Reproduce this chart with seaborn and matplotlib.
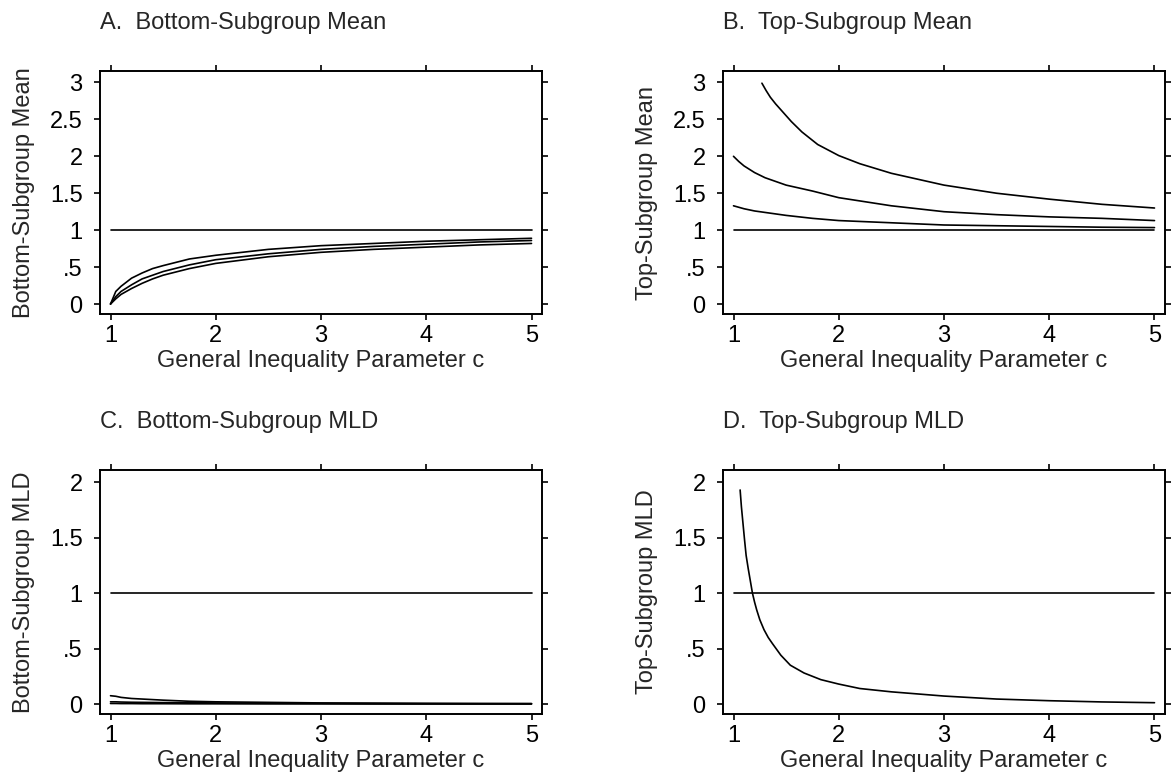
import numpy as np
import pandas as pd
import matplotlib
matplotlib.use("Agg")
import matplotlib.pyplot as plt
import seaborn as sns

sns.set_style("ticks")
plt.rcParams['font.family'] = ['Liberation Sans', 'DejaVu Sans']
plt.rcParams['font.size'] = 17

# ------------------------------------------------------------------
# data
# ------------------------------------------------------------------
c_grid = [1.0, 1.05, 1.1, 1.2, 1.3, 1.4, 1.5, 1.75, 2.0, 2.5, 3.0, 3.5, 4.0, 4.5, 5.0]
c_ref = [1.0, 5.0]
ref_one = [1.0, 1.0]

# A. bottom-subgroup mean (three curves)
a_top = [0.0, 0.17, 0.24, 0.35, 0.42, 0.48, 0.52, 0.61, 0.66, 0.74, 0.79, 0.82, 0.85, 0.87, 0.89]
a_mid = [0.0, 0.10, 0.17, 0.26, 0.34, 0.39, 0.44, 0.53, 0.60, 0.68, 0.74, 0.78, 0.81, 0.84, 0.86]
a_low = [0.0, 0.07, 0.13, 0.21, 0.28, 0.34, 0.39, 0.48, 0.55, 0.64, 0.70, 0.74, 0.77, 0.80, 0.82]

# B. top-subgroup mean (three curves)
c_b_top = [1.27, 1.31, 1.35, 1.4, 1.45, 1.55, 1.65, 1.8, 2.0, 2.2, 2.5, 3.0, 3.5, 4.0, 4.5, 5.0]
b_top = [2.99, 2.89, 2.80, 2.71, 2.63, 2.47, 2.33, 2.16, 2.01, 1.90, 1.77, 1.61, 1.50, 1.42, 1.35, 1.30]
b_mid = [2.00, 1.93, 1.87, 1.78, 1.71, 1.66, 1.61, 1.53, 1.44, 1.33, 1.25, 1.21, 1.18, 1.16, 1.13]
b_low = [1.33, 1.31, 1.29, 1.26, 1.24, 1.22, 1.20, 1.16, 1.13, 1.10, 1.07, 1.06, 1.05, 1.04, 1.035]

# C. bottom-subgroup MLD (three curves, all close to zero)
c_one = [0.075, 0.07, 0.06, 0.05, 0.045, 0.04, 0.035, 0.025, 0.02, 0.015, 0.01, 0.008, 0.006, 0.005, 0.004]
c_two = [0.02, 0.02, 0.018, 0.016, 0.015, 0.014, 0.013, 0.012, 0.01, 0.008, 0.006, 0.005, 0.004, 0.003, 0.003]
c_three = [0.005, 0.005, 0.004, 0.004, 0.003, 0.003, 0.003, 0.002, 0.002, 0.001, 0.001, 0.0, 0.0, 0.0, 0.0]

# D. top-subgroup MLD (one curve)
c_d = [1.063, 1.075, 1.09, 1.105, 1.12, 1.14, 1.16, 1.18, 1.2, 1.22, 1.25, 1.29, 1.33, 1.37,
       1.45, 1.54, 1.67, 1.83, 2.0, 2.2, 2.5, 3.0, 3.5, 4.0, 4.5, 5.0]
d_val = [1.93, 1.78, 1.63, 1.48, 1.34, 1.22, 1.11, 1.00, 0.92, 0.85, 0.76, 0.67, 0.60, 0.545,
         0.44, 0.35, 0.28, 0.22, 0.18, 0.14, 0.11, 0.072, 0.045, 0.03, 0.019, 0.012]

x_ticks = [1, 2, 3, 4, 5]
mean_ticks = [0, 0.5, 1, 1.5, 2, 2.5, 3]
mean_labels = ['0', '.5', '1', '1.5', '2', '2.5', '3']
mld_ticks = [0, 0.5, 1, 1.5, 2]
mld_labels = ['0', '.5', '1', '1.5', '2']

x_title = 'General Inequality Parameter c'

# ------------------------------------------------------------------
# figure
# ------------------------------------------------------------------
fig = plt.figure(figsize=(11.75, 7.83), dpi=100)
pos = {
    'A': [0.0851, 0.599, 0.3762, 0.3103],
    'B': [0.6153, 0.599, 0.3762, 0.3103],
    'C': [0.0851, 0.0881, 0.3762, 0.3116],
    'D': [0.6153, 0.0881, 0.3762, 0.3116],
}

panels = [
    ('A', 'A.  Bottom-Subgroup Mean', 'Bottom-Subgroup Mean',
     [(c_grid, a_top), (c_grid, a_mid), (c_grid, a_low), (c_ref, ref_one)],
     mean_ticks, mean_labels, (-0.135, 3.155)),
    ('B', 'B.  Top-Subgroup Mean', 'Top-Subgroup Mean',
     [(c_b_top, b_top), (c_grid, b_mid), (c_grid, b_low), (c_ref, ref_one)],
     mean_ticks, mean_labels, (-0.135, 3.155)),
    ('C', 'C.  Bottom-Subgroup MLD', 'Bottom-Subgroup MLD',
     [(c_grid, c_one), (c_grid, c_two), (c_grid, c_three), (c_ref, ref_one)],
     mld_ticks, mld_labels, (-0.09, 2.11)),
    ('D', 'D.  Top-Subgroup MLD', 'Top-Subgroup MLD',
     [(c_d, d_val), (c_ref, ref_one)],
     mld_ticks, mld_labels, (-0.09, 2.11)),
]

for key, title, ylab, curves, yt, ytl, ylim in panels:
    ax = fig.add_axes(pos[key])
    for xs, ys in curves:
        sns.lineplot(x=xs, y=ys, ax=ax, color='black', linewidth=1.2, sort=False)
    ax.set_xlim(0.9, 5.1)
    ax.set_ylim(*ylim)
    ax.set_xticks(x_ticks)
    ax.set_xticklabels([str(t) for t in x_ticks])
    ax.set_yticks(yt)
    ax.set_yticklabels(ytl)
    ax.tick_params(axis='both', which='both', direction='out', length=4, width=1.2,
                   top=True, right=True, labeltop=False, labelright=False,
                   labelsize=17, colors='black')
    ax.tick_params(axis='y', pad=8.5)
    ax.tick_params(axis='x', pad=4)
    for sp in ax.spines.values():
        sp.set_visible(True)
        sp.set_linewidth(1.4)
        sp.set_color('black')
    ax.set_title(title, loc='left', pad=30, fontsize=17)
    ax.set_ylabel(ylab, fontsize=17)
    ax.set_xlabel(x_title, fontsize=17)
    ax.yaxis.set_label_coords(-0.147, 0.5)
    ax.xaxis.set_label_coords(0.5, -0.147)

fig.savefig('out.png', dpi=100, facecolor='white')
